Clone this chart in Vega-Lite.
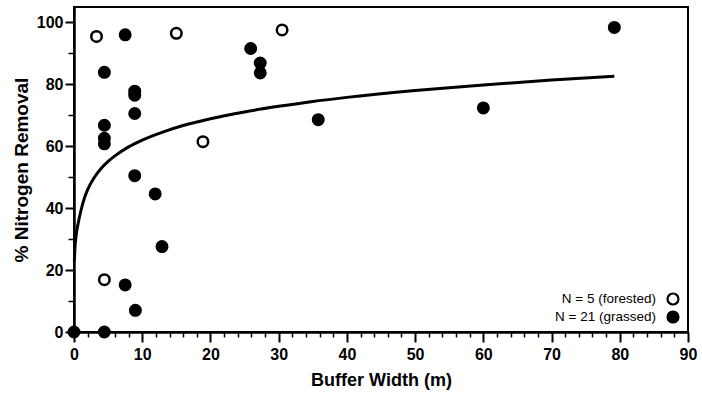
{
  "$schema": "https://vega.github.io/schema/vega-lite/v6.json",
  "width": 614,
  "height": 325,
  "autosize": "none",
  "padding": {"left": 74, "top": 7, "right": 14, "bottom": 65},
  "background": "white",
  "config": {
    "view": {"stroke": "black", "strokeWidth": 2},
    "axis": {
      "grid": false,
      "domainColor": "black",
      "tickColor": "black",
      "labelColor": "black",
      "titleColor": "black",
      "labelFont": "Liberation Sans",
      "labelFontWeight": "bold",
      "labelFontSize": 16,
      "titleFont": "Liberation Sans",
      "titleFontWeight": "bold",
      "titleFontSize": 18
    }
  },
  "layer": [
    {
      "data": {
        "values": [
          {"x": 0.05, "y": 23},
          {"x": 0.15, "y": 27.5},
          {"x": 0.3, "y": 31},
          {"x": 0.6, "y": 35},
          {"x": 1, "y": 39.1},
          {"x": 1.5, "y": 43.1},
          {"x": 2, "y": 46},
          {"x": 3, "y": 50},
          {"x": 4, "y": 52.9},
          {"x": 5, "y": 55.1},
          {"x": 6, "y": 56.9},
          {"x": 8, "y": 59.8},
          {"x": 10, "y": 62},
          {"x": 13, "y": 64.6},
          {"x": 16, "y": 66.7},
          {"x": 20, "y": 68.9},
          {"x": 25, "y": 71.1},
          {"x": 30, "y": 72.9},
          {"x": 35, "y": 74.5},
          {"x": 40, "y": 75.8},
          {"x": 50, "y": 78},
          {"x": 60, "y": 79.8},
          {"x": 70, "y": 81.4},
          {"x": 79.2, "y": 82.6}
        ]
      },
      "mark": {"type": "line", "color": "black", "strokeWidth": 3, "interpolate": "monotone"},
      "encoding": {
        "x": {
          "field": "x", "type": "quantitative",
          "scale": {"domain": [0, 90], "nice": false, "zero": false},
          "axis": {
            "title": "Buffer Width (m)",
            "values": [0, 10, 20, 30, 40, 50, 60, 70, 80, 90],
            "format": "d",
            "domainWidth": 2.5,
            "tickWidth": 2,
            "tickSize": 10,
            "labelPadding": 4,
            "titlePadding": 9,
            "labelFlush": false
          }
        },
        "y": {
          "field": "y", "type": "quantitative",
          "scale": {"domain": [0, 105], "nice": false, "zero": false},
          "axis": {
            "title": "% Nitrogen Removal",
            "titleFontSize": 19,
            "values": [0, 20, 40, 60, 80, 100],
            "format": "d",
            "domainWidth": 2.5,
            "tickWidth": 2,
            "tickSize": 9,
            "labelPadding": 2,
            "titlePadding": 5,
            "labelFlush": false
          }
        }
      }
    },
    {
      "data": {
        "values": [
          {"x": 3.3, "y": 95.5, "group": "N = 5 (forested)"},
          {"x": 15, "y": 96.5, "group": "N = 5 (forested)"},
          {"x": 30.5, "y": 97.6, "group": "N = 5 (forested)"},
          {"x": 18.9, "y": 61.5, "group": "N = 5 (forested)"},
          {"x": 4.45, "y": 16.9, "group": "N = 5 (forested)"},
          {"x": 7.5, "y": 96, "group": "N = 21 (grassed)"},
          {"x": 25.9, "y": 91.6, "group": "N = 21 (grassed)"},
          {"x": 27.3, "y": 86.9, "group": "N = 21 (grassed)"},
          {"x": 27.3, "y": 83.7, "group": "N = 21 (grassed)"},
          {"x": 4.45, "y": 83.9, "group": "N = 21 (grassed)"},
          {"x": 8.9, "y": 77.8, "group": "N = 21 (grassed)"},
          {"x": 8.9, "y": 76.5, "group": "N = 21 (grassed)"},
          {"x": 8.9, "y": 70.6, "group": "N = 21 (grassed)"},
          {"x": 35.8, "y": 68.6, "group": "N = 21 (grassed)"},
          {"x": 4.45, "y": 66.8, "group": "N = 21 (grassed)"},
          {"x": 4.45, "y": 62.6, "group": "N = 21 (grassed)"},
          {"x": 4.45, "y": 60.8, "group": "N = 21 (grassed)"},
          {"x": 8.9, "y": 50.5, "group": "N = 21 (grassed)"},
          {"x": 11.9, "y": 44.6, "group": "N = 21 (grassed)"},
          {"x": 79.2, "y": 98.4, "group": "N = 21 (grassed)"},
          {"x": 60, "y": 72.4, "group": "N = 21 (grassed)"},
          {"x": 12.9, "y": 27.6, "group": "N = 21 (grassed)"},
          {"x": 7.5, "y": 15.2, "group": "N = 21 (grassed)"},
          {"x": 9, "y": 7, "group": "N = 21 (grassed)"},
          {"x": 0, "y": 0, "group": "N = 21 (grassed)"},
          {"x": 4.45, "y": 0, "group": "N = 21 (grassed)"}
        ]
      },
      "mark": {"type": "point", "shape": "circle", "filled": true, "size": 110, "stroke": "black", "strokeWidth": 2.5, "opacity": 1},
      "encoding": {
        "x": {
          "field": "x", "type": "quantitative",
          "scale": {"domain": [0, 90], "nice": false, "zero": false},
          "axis": {
            "orient": "bottom",
            "title": null,
            "labels": false,
            "domain": false,
            "tickWidth": 1.5,
            "tickSize": 5,
            "values": [2, 4, 6, 8, 12, 14, 16, 18, 22, 24, 26, 28, 32, 34, 36, 38, 42, 44, 46, 48, 52, 54, 56, 58, 62, 64, 66, 68, 72, 74, 76, 78, 82, 84, 86, 88]
          }
        },
        "y": {
          "field": "y", "type": "quantitative",
          "scale": {"domain": [0, 105], "nice": false, "zero": false},
          "axis": {
            "orient": "left",
            "title": null,
            "labels": false,
            "domain": false,
            "tickWidth": 1.5,
            "tickSize": 6,
            "values": [10, 30, 50, 70, 90]
          }
        },
        "fill": {
          "field": "group", "type": "nominal",
          "scale": {"domain": ["N = 5 (forested)", "N = 21 (grassed)"], "range": ["white", "black"]},
          "legend": {
            "title": null,
            "orient": "bottom-right",
            "offset": 5,
            "padding": 0,
            "labelAlign": "right",
            "labelOffset": -24,
            "labelFont": "Liberation Sans",
            "labelFontSize": 13.5,
            "labelColor": "black",
            "symbolType": "circle",
            "symbolSize": 120,
            "symbolStrokeColor": "black",
            "symbolStrokeWidth": 2.2,
            "rowPadding": -2
          }
        }
      }
    }
  ],
  "resolve": {"axis": {"x": "independent", "y": "independent"}}
}
